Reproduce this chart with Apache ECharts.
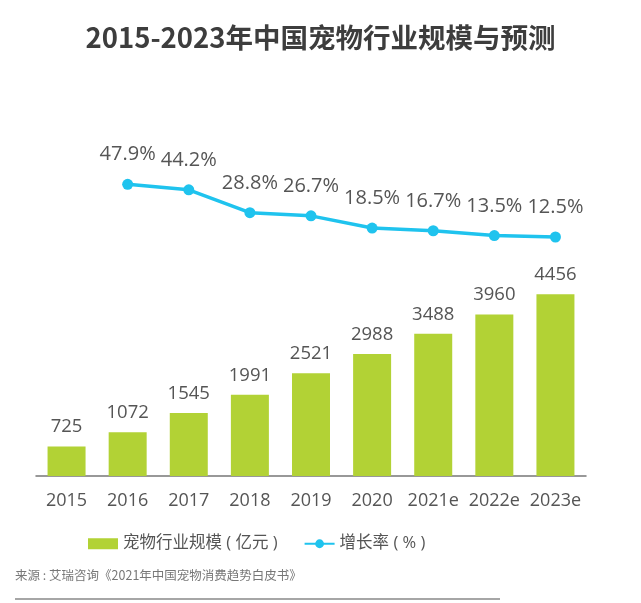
<!DOCTYPE html>
<html><head><meta charset="utf-8">
<script src="https://cdn.jsdelivr.net/npm/echarts@6/dist/echarts.min.js"></script>
<style>html,body{margin:0;padding:0;background:#fff;}#c{width:641px;height:603px;}</style>
</head><body><div id="c"></div>
<script>
const categories = ['2015','2016','2017','2018','2019','2020','2021e','2022e','2023e'];
const marketSize = [725,1072,1545,1991,2521,2988,3488,3960,4456];
const growthRate = [null,47.9,44.2,28.8,26.7,18.5,16.7,13.5,12.5];
const FONT = '"Open Sans","Noto Sans CJK SC",sans-serif';
const chart = echarts.init(document.getElementById('c'));
chart.setOption({
  animation:false,
  title:{text:'2015-2023年中国宠物行业规模与预测',left:'center',top:19,
    textStyle:{fontFamily:'"Noto Sans CJK SC",sans-serif',fontSize:27.5,fontWeight:'bold',color:'#3d3d3d'}},
  legend:{bottom:46,left:83,itemGap:26,itemWidth:30,itemHeight:11,itemStyle:{borderWidth:0},
    textStyle:{fontFamily:FONT,fontSize:16.5,color:'#555'},
    data:[{name:'宠物行业规模 ( 亿元 )',icon:'rect'},{name:'增长率 ( % )'}]},
  graphic:[
    {type:'text',left:15,top:569,style:{text:'来源 : 艾瑞咨询《2021年中国宠物消费趋势白皮书》',fontFamily:'"Noto Sans CJK SC",sans-serif',fontSize:12.5,fill:'#777'}},
    {type:'line',shape:{x1:15,y1:599,x2:500,y2:599},style:{stroke:'#888',lineWidth:1.5}}
  ],
  grid:{left:36,right:55,top:68,bottom:127},
  xAxis:{type:'category',data:categories,
    axisLine:{lineStyle:{color:'#777',width:1.5}},axisTick:{show:false},
    axisLabel:{fontFamily:FONT,fontSize:18,color:'#555',margin:16,interval:0}},
  yAxis:[
    {type:'value',min:0,max:10000,show:false,splitLine:{show:false}},
    {type:'value',min:-148,max:126,show:false,splitLine:{show:false}}
  ],
  series:[
    {name:'宠物行业规模 ( 亿元 )',type:'bar',data:marketSize,barWidth:38,
      itemStyle:{color:'#b2d235'},
      label:{show:true,position:'top',distance:10,fontFamily:FONT,fontSize:18.5,color:'#555'}},
    {name:'增长率 ( % )',type:'line',yAxisIndex:1,data:growthRate,
      symbol:'circle',symbolSize:11,lineStyle:{width:3.5,color:'#1fc3ee'},itemStyle:{color:'#1fc3ee'},
      label:{show:true,position:'top',distance:14,fontFamily:FONT,fontSize:20,color:'#555',
        formatter:p=>p.value.toFixed(1)+'%'}}
  ]
});
</script></body></html>
